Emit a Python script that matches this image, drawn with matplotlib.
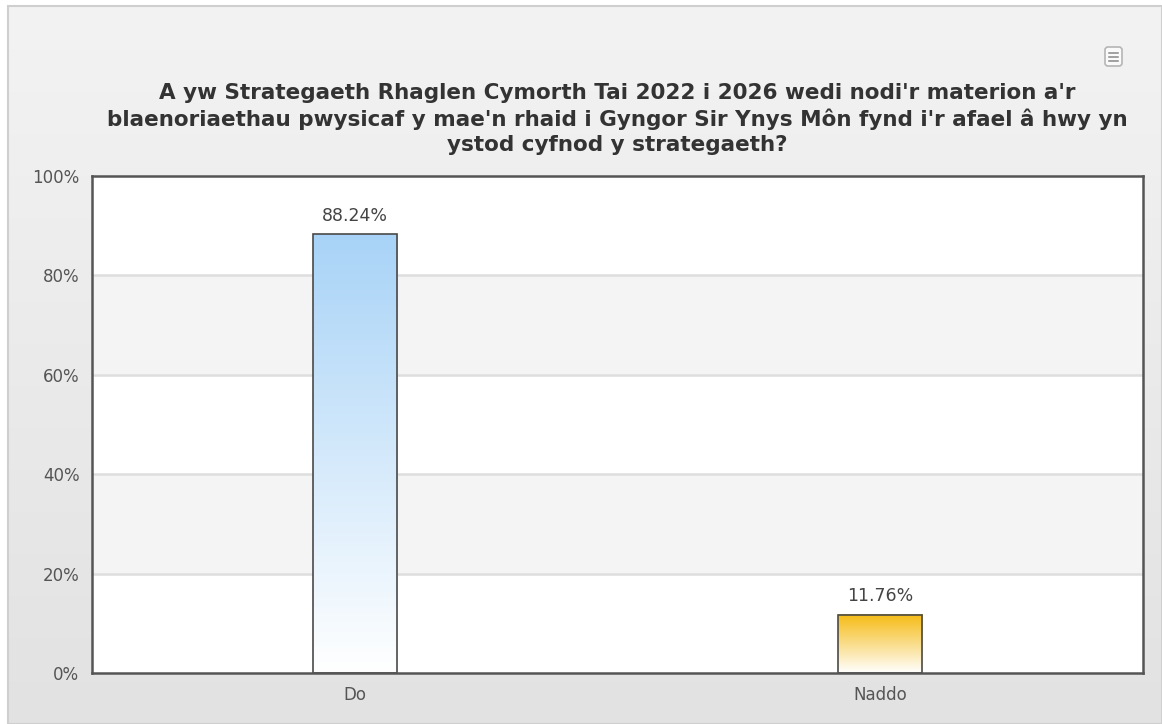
import numpy as np
import matplotlib.pyplot as plt
from matplotlib.patches import Rectangle, FancyBboxPatch
from matplotlib.colors import LinearSegmentedColormap

# data
categories = ["Do", "Naddo"]
percentages = [88.24, 11.76]
bar_top_colours = ["#a8d3f7", "#f5bb14"]
y_ticks = [0, 20, 40, 60, 80, 100]

title = ("A yw Strategaeth Rhaglen Cymorth Tai 2022 i 2026 wedi nodi'r materion a'r\n"
         "blaenoriaethau pwysicaf y mae'n rhaid i Gyngor Sir Ynys Môn fynd i'r afael â hwy yn\n"
         "ystod cyfnod y strategaeth?")

W, H = 1162, 724
fig = plt.figure(figsize=(W / 100, H / 100), dpi=100)
fig.patch.set_facecolor("white")

# background panel with vertical gradient
bg = fig.add_axes([0, 0, 1, 1], zorder=-10)
bg.set_xlim(0, W)
bg.set_ylim(H, 0)
bg.axis("off")
grad = np.linspace(0, 1, 256).reshape(-1, 1)
bg_cmap = LinearSegmentedColormap.from_list("bg", ["#f3f3f3", "#e2e2e2"])
bg.imshow(grad, cmap=bg_cmap, extent=[8, W, H, 6], aspect="auto")
bg.add_patch(Rectangle((8, 6), W - 8, H - 6, fill=False, edgecolor="#cfcfcf", lw=1.5))
# menu button
bg.add_patch(FancyBboxPatch((1105, 47), 17, 19, boxstyle="round,pad=0,rounding_size=3",
                            facecolor="#fafafa", edgecolor="#b5b5b5", lw=1.2))
for yy in (52.5, 56.5, 60.5):
    bg.plot([1109, 1118], [yy, yy], color="#888888", lw=1.1)

ax = fig.add_axes([92 / W, 1 - 673 / H, (1143 - 92) / W, (673 - 176) / H])
ax.set_facecolor("white")

for lo in (20, 60):
    ax.axhspan(lo, lo + 20, color="#f4f4f4", zorder=0)
for yv in y_ticks[1:-1]:
    ax.axhline(yv, color="#dedede", lw=1.8, zorder=1)

x = np.arange(len(categories))
bars = ax.bar(x, percentages, width=0.16, facecolor="none", edgecolor="#4a4a4a",
              lw=1.2, zorder=4)
for b, top in zip(bars, bar_top_colours):
    cmap = LinearSegmentedColormap.from_list("g", ["white", top])
    x0, y0 = b.get_x(), b.get_y()
    ax.imshow(np.linspace(0, 1, 256).reshape(-1, 1), cmap=cmap, origin="lower",
              extent=[x0, x0 + b.get_width(), y0, y0 + b.get_height()],
              aspect="auto", zorder=3)
    ax.annotate(f"{b.get_height():.2f}%", (b.get_x() + b.get_width() / 2, b.get_height()),
                xytext=(0, 7), textcoords="offset points", ha="center", va="bottom",
                fontsize=12.5, color="#444444")

ax.set_xlim(-0.5, len(categories) - 0.5)
ax.set_ylim(0, 100)
ax.set_xticks(x, categories)
ax.set_yticks(y_ticks, [f"{v}%" for v in y_ticks])
ax.tick_params(axis="x", length=0, pad=9, labelsize=12, labelcolor="#555555")
ax.tick_params(axis="y", length=0, pad=9, labelsize=12, labelcolor="#555555")
for s in ax.spines.values():
    s.set_color("#555555")
    s.set_linewidth(1.8)
    s.set_zorder(5)

fig.text((92 + 1143) / 2 / W, 1 - 119 / H, title, ha="center", va="center",
         fontsize=15.5, fontweight="bold", color="#333333", linespacing=1.32)

fig.savefig("out.png", dpi=100)
